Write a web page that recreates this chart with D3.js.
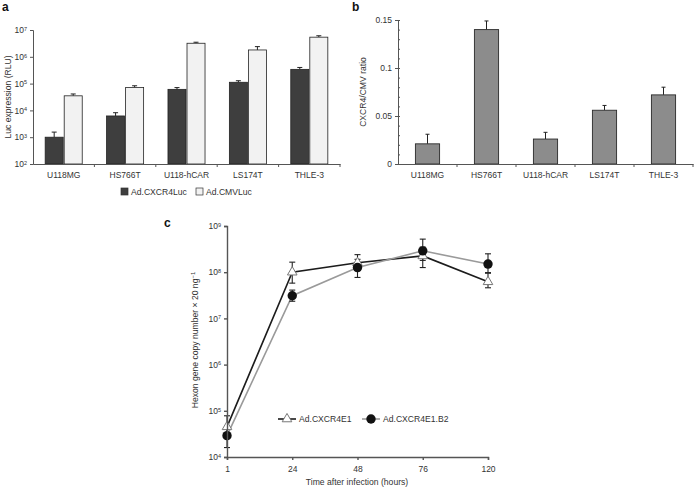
<!DOCTYPE html>
<html>
<head>
<meta charset="utf-8">
<script src="https://cdn.jsdelivr.net/npm/d3@7"></script>
<style>
  body { margin: 0; background: #fff; }
  svg { display: block; font-family: "Liberation Sans", Arial, sans-serif; }
  .axis path, .axis line { stroke: #555; }
  .axis text { fill: #333; font-size: 8.5px; }
  .ttl { fill: #333; font-size: 8.6px; }
  .plabel { font-size: 12px; font-weight: bold; fill: #111; }
</style>
</head>
<body>
<svg id="fig" width="700" height="488"></svg>
<script>
/// ---- data ----
var cellLines = ["U118MG", "HS766T", "U118-hCAR", "LS174T", "THLE-3"]
var lucSeries = ["Ad.CXCR4Luc", "Ad.CMVLuc"]
var lucCXCR4 = [1000, 6200, 61000, 112000, 340000]
var lucCXCR4Upper = [1550, 8200, 71000, 128000, 400000]
var lucCMV = [35000, 72000, 3200000, 1800000, 5400000]
var lucCMVUpper = [41000, 83000, 3500000, 2400000, 6100000]

var ratio = [0.021, 0.140, 0.026, 0.056, 0.072]
var ratioUpper = [0.031, 0.149, 0.033, 0.061, 0.080]
var ratioTicks = [0, 0.05, 0.1, 0.15]

var times = ["1", "24", "48", "76", "120"]
var e1 = [45000, 1.0e8, 1.6e8, 2.25e8, 6.2e7]
var e1Lo = [30000, 5.8e7, 1.1e8, 1.26e8, 4.6e7]
var e1Hi = [78000, 1.65e8, 2.4e8, 3.5e8, 9.5e7]
var b2 = [29000, 3.1e7, 1.26e8, 2.9e8, 1.5e8]
var b2Lo = [16000, 2.35e7, 7.7e7, 1.8e8, 9.8e7]
var b2Hi = [42000, 4.1e7, 1.9e8, 5.2e8, 2.5e8]

var svg = d3.select("#fig")

/// superscript powers of ten on log axes
function powLabels(g){
    g.selectAll(".tick text").each(function(d){
        var t = d3.select(this)
        t.text("10")
        t.append("tspan").attr("dy", "-0.45em").attr("font-size", "5.5px")
            .text(Math.round(Math.log10(d)))
    })
}

/// ticks at the band boundaries, as in the original
function bandTicks(g, x, y0){
    var half = x.step() * x.paddingInner() / 2
    g.selectAll("line.bt").data(cellLines.slice(1).concat(["end"]))
        .enter().append("line").attr("class", "bt")
        .attr("x1", (d, i) => i < cellLines.length - 1 ? x(d) - half : x.range()[1])
        .attr("x2", (d, i) => i < cellLines.length - 1 ? x(d) - half : x.range()[1])
        .attr("y1", y0).attr("y2", y0 + 3)
        .attr("stroke", "#555")
}

/* ================= panel a ================= */
var xa = d3.scaleBand().domain(cellLines).range([33, 340]).paddingInner(0).paddingOuter(0)
var xa1 = d3.scaleBand().domain(lucSeries).range([0, xa.bandwidth()])
    .paddingInner(0.053).paddingOuter(0.64)
var ya = d3.scaleLog().domain([1e2, 1e7]).range([164, 30])

var ga = svg.append("g")
ga.append("text").attr("class", "plabel").attr("x", 2).attr("y", 11).text("a")

var lucTable = cellLines.map((c, i) => ({c: c, vals: [
    {s: lucSeries[0], v: lucCXCR4[i], u: lucCXCR4Upper[i], fill: "#3e3e3e"},
    {s: lucSeries[1], v: lucCMV[i], u: lucCMVUpper[i], fill: "#f2f2f2"}]}))

var grp = ga.selectAll("g.grp").data(lucTable).enter().append("g")
    .attr("transform", d => "translate(" + xa(d.c) + ",0)")
grp.selectAll("line.err").data(d => d.vals).enter().append("line")
    .attr("x1", d => xa1(d.s) + xa1.bandwidth() / 2).attr("x2", d => xa1(d.s) + xa1.bandwidth() / 2)
    .attr("y1", d => ya(d.v)).attr("y2", d => ya(d.u)).attr("stroke", "#222")
grp.selectAll("line.cap").data(d => d.vals).enter().append("line")
    .attr("x1", d => xa1(d.s) + xa1.bandwidth() / 2 - 2.5).attr("x2", d => xa1(d.s) + xa1.bandwidth() / 2 + 2.5)
    .attr("y1", d => ya(d.u)).attr("y2", d => ya(d.u)).attr("stroke", "#222")
grp.selectAll("rect").data(d => d.vals).enter().append("rect")
    .attr("x", d => xa1(d.s)).attr("width", xa1.bandwidth())
    .attr("y", d => ya(d.v)).attr("height", d => ya.range()[0] - ya(d.v))
    .attr("fill", d => d.fill).attr("stroke", "#222").attr("stroke-width", 0.8)

ga.append("g").attr("class", "axis").attr("transform", "translate(33,0)")
    .call(d3.axisLeft(ya).tickValues([1e2, 1e3, 1e4, 1e5, 1e6, 1e7]).tickSize(3).tickPadding(3))
    .call(powLabels)
var axA = ga.append("g").attr("class", "axis").attr("transform", "translate(0,164)")
    .call(d3.axisBottom(xa).tickSize(0).tickPadding(8))
bandTicks(axA, xa, 0)
ga.append("text").attr("class", "ttl").attr("text-anchor", "middle")
    .attr("transform", "translate(11,97) rotate(-90)").text("Luc expression (RLU)")

/// legend a
var legA = ga.selectAll("g.leg").data(lucTable[0].vals).enter().append("g")
    .attr("transform", (d, i) => "translate(" + (121 + i * 75) + ",188)")
legA.append("rect").attr("width", 7).attr("height", 7)
    .attr("fill", d => d.fill).attr("stroke", "#333").attr("stroke-width", 0.7)
legA.append("text").attr("class", "ttl").attr("x", 10).attr("y", 7).text(d => d.s)

/* ================= panel b ================= */
var xb = d3.scaleBand().domain(cellLines).range([398, 693]).paddingInner(0.59).paddingOuter(0.295)
var yb = d3.scaleLinear().domain([0, 0.15]).range([164, 20])

var gb = svg.append("g")
gb.append("text").attr("class", "plabel").attr("x", 352).attr("y", 11).text("b")

gb.selectAll("line.err").data(cellLines).enter().append("line")
    .attr("x1", d => xb(d) + xb.bandwidth() / 2).attr("x2", d => xb(d) + xb.bandwidth() / 2)
    .attr("y1", (d, i) => yb(ratio[i])).attr("y2", (d, i) => yb(ratioUpper[i])).attr("stroke", "#222")
gb.selectAll("line.cap").data(cellLines).enter().append("line")
    .attr("x1", d => xb(d) + xb.bandwidth() / 2 - 2).attr("x2", d => xb(d) + xb.bandwidth() / 2 + 2)
    .attr("y1", (d, i) => yb(ratioUpper[i])).attr("y2", (d, i) => yb(ratioUpper[i])).attr("stroke", "#222")
gb.selectAll("rect").data(cellLines).enter().append("rect")
    .attr("x", d => xb(d)).attr("width", xb.bandwidth())
    .attr("y", (d, i) => yb(ratio[i])).attr("height", (d, i) => yb(0) - yb(ratio[i]))
    .attr("fill", "#8c8c8c").attr("stroke", "#2a2a2a").attr("stroke-width", 0.9)

/// minor ticks every 0.01
gb.append("g").attr("class", "axis").attr("transform", "translate(398,0)")
    .call(d3.axisRight(yb).ticks(15).tickSize(2).tickFormat(""))
    .call(g => g.select(".domain").remove())
gb.append("g").attr("class", "axis").attr("transform", "translate(398,0)")
    .call(d3.axisLeft(yb).tickValues(ratioTicks).tickSize(3).tickPadding(3)
        .tickFormat(d => d === 0 ? "0" : String(d)))
var axB = gb.append("g").attr("class", "axis").attr("transform", "translate(0,164)")
    .call(d3.axisBottom(xb).tickSize(0).tickPadding(8))
bandTicks(axB, xb, 0)
gb.append("text").attr("class", "ttl").attr("text-anchor", "middle")
    .attr("transform", "translate(366,92) rotate(-90)").text("CXCR4/CMV ratio")

/* ================= panel c ================= */
var xc = d3.scalePoint().domain(times).range([227, 488])
var yc = d3.scaleLog().domain([1e4, 1e9]).range([457, 226])

var gc = svg.append("g")
gc.append("text").attr("class", "plabel").attr("x", 164).attr("y", 227).text("c")

var lineSeries = [
    {name: "Ad.CXCR4E1", v: e1, lo: e1Lo, hi: e1Hi, color: "#1c1c1c", marker: "tri"},
    {name: "Ad.CXCR4E1.B2", v: b2, lo: b2Lo, hi: b2Hi, color: "#9a9a9a", marker: "dot"}]

var line = d3.line().x((d, i) => xc(times[i])).y(d => yc(d))
var tri = d3.symbol().type(d3.symbolTriangle).size(40)

function drawMarker(sel, s){
    if (s.marker === "tri")
        sel.append("path").attr("d", tri).attr("fill", "#fff").attr("stroke", "#777").attr("stroke-width", 1)
    else
        sel.append("circle").attr("r", 4.7).attr("fill", "#111")
}

lineSeries.forEach(function(s){
    gc.append("path").datum(s.v).attr("d", line).attr("fill", "none")
        .attr("stroke", s.color).attr("stroke-width", 1.6)
})
lineSeries.forEach(function(s){
    var eb = gc.selectAll(null).data(times).enter().append("g")
    eb.append("line").attr("x1", d => xc(d)).attr("x2", d => xc(d))
        .attr("y1", (d, i) => yc(s.lo[i])).attr("y2", (d, i) => yc(s.hi[i])).attr("stroke", "#222").attr("stroke-width", 1.1)
    ;[s.lo, s.hi].forEach(function(arr){
        eb.append("line").attr("x1", d => xc(d) - 3).attr("x2", d => xc(d) + 3)
            .attr("y1", (d, i) => yc(arr[i])).attr("y2", (d, i) => yc(arr[i])).attr("stroke", "#222").attr("stroke-width", 1.1)
    })
})
lineSeries.forEach(function(s){
    var m = gc.selectAll(null).data(s.v).enter().append("g")
        .attr("transform", (d, i) => "translate(" + xc(times[i]) + "," + yc(d) + ")")
    drawMarker(m, s)
})

gc.append("g").attr("class", "axis").attr("transform", "translate(227,0)")
    .call(d3.axisLeft(yc).tickValues([1e4, 1e5, 1e6, 1e7, 1e8, 1e9]).tickSize(3).tickPadding(3))
    .call(powLabels)
gc.append("g").attr("class", "axis").attr("transform", "translate(0,457)")
    .call(d3.axisBottom(xc).tickSize(3).tickPadding(6))
gc.selectAll(".axis path, .axis line").attr("stroke-width", 1.4).attr("stroke", "#555")

var yt = gc.append("text").attr("class", "ttl").attr("text-anchor", "middle")
    .attr("transform", "translate(198,340) rotate(-90)")
yt.append("tspan").text("Hexon gene copy number \u00d7 20 ng")
yt.append("tspan").attr("dy", "-0.45em").attr("font-size", "6px").text("\u22121")
gc.append("text").attr("class", "ttl").attr("text-anchor", "middle")
    .attr("x", 357).attr("y", 485).text("Time after infection (hours)")

/// legend c
var legC = gc.selectAll("g.legc").data(lineSeries).enter().append("g")
    .attr("transform", (d, i) => "translate(" + (278 + i * 84) + ",419)")
legC.append("line").attr("x1", 0).attr("x2", 18).attr("stroke", d => d.color).attr("stroke-width", 1.6)
legC.each(function(s){
    drawMarker(d3.select(this).append("g").attr("transform", "translate(9,0)"), s)
})
legC.append("text").attr("class", "ttl").attr("x", 21).attr("y", 3).text(d => d.name)
</script>
</body>
</html>
